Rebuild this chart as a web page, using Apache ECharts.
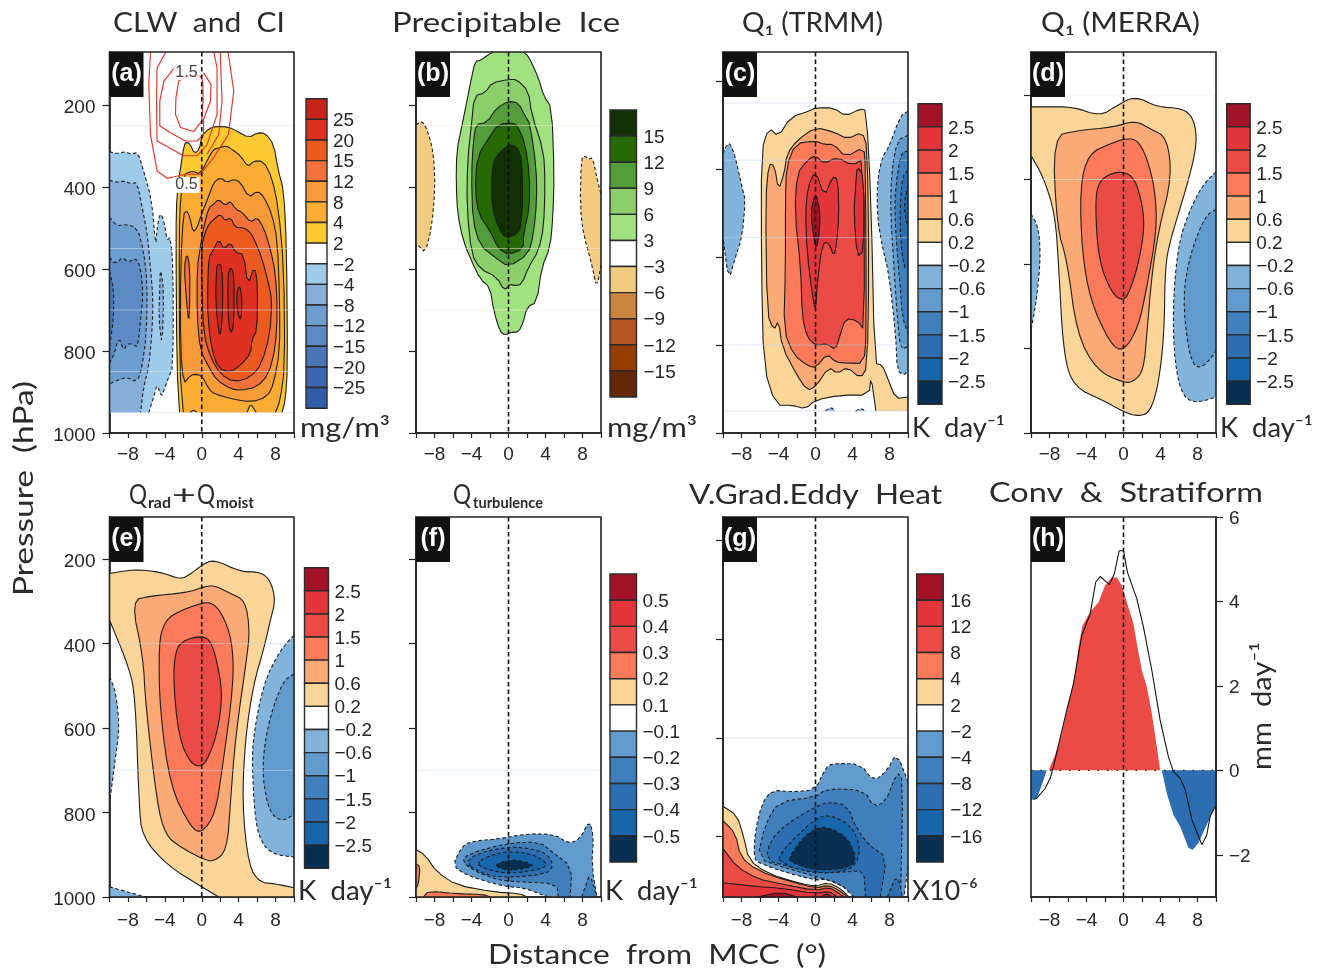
<!DOCTYPE html>
<html><head><meta charset="utf-8">
<style>html,body{margin:0;padding:0;background:#fff}#c{width:1326px;height:969px}</style>
<script src="https://cdn.jsdelivr.net/npm/echarts@6/dist/echarts.min.js"></script></head>
<body><div id="c"></div>
<script>
// ---------- tick labels / categories ----------
const xTicks=[-10,-8,-6,-4,-2,0,2,4,6,8,10];
const xLabels=[-8,-4,0,4,8];
const pTicks=[200,400,600,800,1000];
const hTicks=[-2,0,2,4,6];
// ---------- colourbar levels (top to bottom) ----------
const cbA=['25','20','15','12','8','4','2','−2','−4','−8','−12','−15','−20','−25'];
const cbB=['15','12','9','6','3','−3','−6','−9','−12','−15'];
const cbQ=['2.5','2','1.5','1','0.6','0.2','−0.2','−0.6','−1','−1.5','−2','−2.5'];
const cbF=['0.5','0.4','0.3','0.2','0.1','−0.1','−0.2','−0.3','−0.4','−0.5'];
const cbG=['16','12','8','4','2','−2','−4','−8','−12','−16'];
const colA=['#C8241A','#E03022','#EC5A20','#F5713C','#F79A38','#FAAC33','#FDC931','#FFFFFF','#9FCBEA','#87AFD9','#6C9ECF','#5B8AC5','#4A77B8','#3E66B3','#2F5DA9'];
const colB=['#123206','#266A06','#539D3A','#8BCF6B','#A0E280','#FFFFFF','#F2CB80','#CB8640','#B65522','#963E02','#642707'];
const colQ=['#A31226','#E3353A','#EC4A44','#FB7A5A','#FBAA76','#FBD598','#FFFFFF','#82B3DB','#619BCE','#3F7FBC','#2D6EB3','#1766AB','#072F51'];
const colF=['#A31226','#E3353A','#EC4A44','#FB7A5A','#FBD598','#FFFFFF','#619BCE','#3F7FBC','#2D6EB3','#1766AB','#072F51'];
// ---------- panel (a) contours: [distance, hPa] ----------
const a_p2=[[-2.4,950],[-2.7,840],[-2.8,515],[-2.7,418],[-2.3,353],[-1.9,296],[-1.6,290],[-1.2,298],[-.8,319],[-.25,308],[0,276],[.76,258],[1.66,252],[2.9,254],[3.8,264],[5.1,280],[6,268],[6.9,269],[7.8,296],[8.3,361],[8.9,410],[9.2,556],[9.3,840],[9.06,920],[8.7,950]];
const a_p4=[[-2,950],[-2.4,840],[-2.45,515],[-2.3,426],[-1.95,369],[-1,361],[-.15,369],[.76,328],[1.3,308],[2,304],[2.7,300],[3.5,312],[4.2,324],[5,351],[5.6,337],[6.7,337],[7.6,377],[8.3,450],[8.9,596],[9,840],[8.5,920],[8,950],[5.9,950],[5.3,928],[4.9,950],[-.5,950],[-.9,944],[-1.3,950]];
const a_p8=[[-2,466],[-1.6,458],[-1.3,474],[-.94,511],[-.5,499],[-.15,474],[.76,422],[1.3,389],[2,377],[2.74,389],[3.5,381],[4.2,389],[5.1,426],[6,410],[6.7,422],[7.6,466],[8.2,531],[8.45,677],[8.45,799],[7.8,880],[7.08,912],[5.3,925],[3.1,916],[1.3,904],[.76,892],[0,860],[-.87,856],[-1.4,864],[-1.95,880],[-2.3,799],[-2.3,596]];
const a_p12=[[.76,450],[1.3,442],[1.84,430],[2.56,446],[3.1,434],[3.65,454],[4.4,462],[5.3,487],[6,474],[6.7,499],[7.4,547],[8,612],[8.2,702],[8,791],[7.26,856],[6,888],[4.2,896],[3.1,892],[1.66,872],[.76,839],[-.15,799],[-.5,718],[-.5,596],[-.15,547],[.2,499]];
const a_p12b=[[-1.6,560],[-1.3,596],[-1.3,677],[-1.4,734],[-1.66,677],[-1.9,596]];
const a_p15=[[.76,491],[1.3,479],[2,466],[2.56,483],[3.1,474],[3.65,499],[4.4,499],[5.1,507],[5.6,523],[6.5,572],[7.26,637],[7.6,677],[7.4,758],[6.5,831],[5.3,864],[3.5,876],[2,856],[.94,815],[.2,758],[0,637],[0,547],[.3,515]];
const a_p20=[[.76,572],[1.3,552],[1.84,527],[2.4,552],[3.1,535],[3.65,560],[4.55,564],[5,641],[5.7,592],[6.06,637],[6,750],[5.45,770],[5.3,807],[4.2,835],[3.1,852],[1.84,843],[1.1,799],[.65,718],[.65,637]];
const a_p25a=[[1.84,586],[2.2,596],[2.3,677],[2.1,758],[1.84,758],[1.5,677],[1.6,596]];
const a_p25b=[[3.1,594],[3.5,612],[3.5,718],[3.3,758],[2.9,742],[2.8,620]];
const a_p25c=[[4.1,637],[4.4,677],[4.26,726],[3.9,710],[3.75,661]];
const a_n2=[[-10,314],[-9.2,319],[-8.3,314],[-7.7,320],[-6.9,316],[-6.3,361],[-5.4,434],[-5,547],[-4.84,499],[-4.5,462],[-4.1,483],[-3.75,531],[-3.4,522],[-3.1,596],[-3.1,839],[-3.6,864],[-4.1,896],[-4.4,912],[-4.84,880],[-5.1,904],[-5.74,950],[-10,950]];
const a_n4=[[-10,384],[-9.2,389],[-8.45,385],[-7.7,392],[-7,389],[-6.46,450],[-5.9,515],[-5.56,596],[-5.27,677],[-5.4,758],[-5.74,839],[-6.3,888],[-6.64,950],[-10,950]];
const a_n4b=[[-4.5,596],[-4.1,653],[-4.3,791],[-4.66,718],[-4.55,653]];
const a_n8=[[-10,474],[-9.2,495],[-8.3,491],[-7,499],[-6.3,556],[-5.9,637],[-6,758],[-6.46,839],[-7,876],[-8.1,864],[-9.2,872],[-10,880]];
const a_n12=[[-10,572],[-9.35,588],[-8.6,572],[-7.9,584],[-7.2,572],[-6.64,596],[-6.35,661],[-6.64,726],[-6.93,791],[-7.5,783],[-8.1,783],[-8.45,799],[-9,766],[-9.5,807],[-10,830]];
const a_n15=[[-10,605],[-9.55,650],[-9.55,720],[-10,790]];
const a_ci1=[[-.15,130],[-1.6,130],[-2.5,142],[-2.8,183],[-2.85,223],[-2.3,255],[-.87,265],[0,239],[.15,190],[.1,142],[-.15,130]];
const a_ci2=[[-2.67,101],[-4.1,142],[-4.55,191],[-4.55,251],[-3.4,268],[-1.77,288],[-.5,288],[.2,272],[.2,235],[.94,191],[1,150],[.2,122]];
const a_ci3=[[-3.9,71],[-4.84,110],[-4.9,191],[-4.84,288],[-1.95,324],[-.5,324],[.58,296],[1.66,223],[1.66,110],[1.3,71]];
const a_ci4=[[-5.56,71],[-5.74,150],[-5.56,272],[-4.84,361],[-3.75,379],[-1.77,369],[-.15,369],[1.3,328],[2.9,272],[3.47,166],[2.85,71]];
const a_ci5=[[2,71],[2.2,191],[1.84,272],[.58,320]];
const a_ciLabels=[[-1.66,120],[-1.66,395]];
const a_ciText=['1.5','0.5'];
const a_pale=[250,550,700,850,950];
// ---------- panel (b) ----------
const b_p3=[[-1.6,71],[-2.16,77],[-3.06,92],[-3.6,93],[-4,134],[-4.5,191],[-5,247],[-5.6,312],[-5.66,393],[-5.5,466],[-4.9,531],[-4,580],[-3.06,625],[-2,645],[-1.6,702],[-.9,754],[-.36,761],[.36,754],[1.08,754],[1.6,730],[2,693],[3.06,681],[3.6,596],[4.5,547],[4.8,474],[4.94,369],[4.68,207],[3.8,178],[3.24,134],[2.16,81],[1.6,71]];
const b_p6=[[-3.7,178],[-2.5,170],[-1.8,146],[0,138],[.9,138],[2.16,166],[2.5,223],[3.8,312],[3.96,393],[3.8,499],[3.24,556],[2.16,596],[1.44,637],[.72,641],[.18,637],[-.47,653],[-1.26,620],[-3.06,600],[-4,564],[-4.5,450],[-4.43,337],[-4,247]];
const b_p9=[[-3.5,247],[-2.34,243],[-1.26,207],[0,191],[1.08,195],[1.8,227],[2.34,247],[3,353],[3.06,434],[2.7,515],[2.16,564],[0,595],[-1.44,572],[-3.06,543],[-3.86,483],[-4,369],[-3.8,288]];
const b_p12=[[-2,276],[-1.08,247],[.54,243],[1.08,255],[1.8,296],[2.27,369],[2.27,450],[1.62,515],[1.62,551],[0,565],[-1.08,551],[-2,507],[-3.24,466],[-3.6,410],[-3.42,328]];
const b_p15=[[-1.8,361],[-1.44,328],[-.36,304],[.36,296],[1.08,308],[1.44,337],[1.55,434],[1.33,499],[.9,515],[-.36,525],[-1.08,499],[-1.8,450]];
const b_n3a=[[-10,249],[-9.3,238],[-8.66,268],[-8.1,320],[-7.93,401],[-8.3,499],[-9,560],[-9.73,543],[-10,539]];
const b_n3b=[[7.86,328],[8.3,325],[8.65,333],[9.1,328],[9.55,377],[10,418],[10,590],[9.55,649],[9,588],[8.1,515],[7.75,450]];
const b_pale=[250,550,700];
// ---------- panel (c) ----------
const c_p02=[[-4.3,937],[-5.6,850],[-5.85,623],[-5.85,358],[-5.05,306],[-4,326],[-2.7,282],[-.54,267],[0,261],[2,261],[3.25,280],[4.87,263],[5.5,267],[6,471],[6.4,842],[7.2,845],[7.76,873],[8.66,922],[10,918],[10,950],[6.53,950],[6,870],[5.8,914],[2.7,914],[0,925],[-1.08,945],[-2.5,937]];
const c_p06=[[-5.05,388],[-4.44,392],[-4,448],[-3.4,411],[-3.07,365],[-2,335],[0,305],[2,316],[3.43,332],[5.05,316],[5.6,350],[5.78,623],[5.6,850],[4.87,876],[3.43,850],[2.35,865],[1.44,850],[0,895],[-.9,903],[-2,869],[-3.6,805],[-4,744],[-4.5,767],[-5.23,729],[-5.4,471]];
const c_p1=[[-3.14,395],[-2.17,342],[0,336],[.9,344],[2,344],[3.25,373],[5.23,350],[5.4,395],[5.5,774],[5.23,842],[3.43,841],[2.17,839],[1.26,820],[0,852],[-.9,846],[-2.35,823],[-3.43,767],[-3.25,623],[-3.25,471]];
const c_p15=[[-2.24,501],[-2,411],[-.9,380],[0,369],[.9,388],[2.35,373],[3.97,392],[5.23,376],[5.3,767],[4.5,744],[3.25,740],[2.7,774],[2.17,812],[1.26,797],[0,801],[-.9,782],[-1.44,736],[-1.6,623]];
const c_p2=[[0,403],[.97,464],[1.8,418],[2.42,422],[2.53,509],[2.27,570],[2,600],[1.44,566],[.72,570],[.18,661],[0,725],[-.36,683],[-.9,592],[-1.08,501],[-.83,441]];
const c_p2b=[[4.5,392],[5.23,418],[5.23,585],[4.5,600],[4.15,501],[4.33,441]];
const c_p25=[[0,452],[.47,494],[.47,532],[.1,589],[-.36,532],[-.47,494]];
const c_n02a=[[-10,365],[-9.6,345],[-9.2,342],[-8.66,373],[-7.94,441],[-7.58,471],[-7.94,555],[-8.66,600],[-9.39,655],[-10,555]];
const c_n02b=[[10,269],[9.2,278],[7.94,350],[7.22,373],[6.68,426],[6.68,509],[7.22,577],[7.94,638],[8.66,774],[8.84,858],[9.57,869],[10,858]];
const c_n06=[[10,323],[8.84,335],[8.2,409],[8.12,501],[8.48,623],[8.84,736],[9.2,810],[10,804]];
const c_n1=[[10,358],[9.2,365],[8.66,441],[8.56,501],[8.84,592],[9.2,676],[9.39,736],[10,774]];
const c_n15=[[10,403],[9.39,418],[9.13,486],[9.2,562],[9.57,623],[10,627]];
const c_n2=[[10,437],[9.64,471],[9.64,501],[10,532]];
const c_n02c=[[1.08,950],[1.62,941],[2.17,950]];
const c_n02d=[[4.33,950],[4.87,944],[5.4,950]];
const c_pale=[250,380,556,800,950];
// ---------- panel (d) ----------
const d_p02=[[-10,228],[-8.3,228],[-5.4,228],[-2.53,250],[-.72,225],[1.26,202],[3.6,228],[6.3,231],[7.5,252],[7.94,299],[7.58,355],[6.5,441],[5.05,544],[4.5,607],[4.4,765],[3.8,883],[2.9,950],[1.62,961],[0,950],[-2.17,923],[-5.4,891],[-6.5,812],[-7,607],[-7.4,481],[-8.66,394],[-10,343]];
const d_p06=[[-7.65,298],[-5.05,284],[-1.08,276],[1.26,260],[2.9,280],[4.7,300],[5.23,394],[3.8,520],[3.07,623],[2.53,765],[2.17,852],[1.08,879],[0,881],[-2.9,852],[-5.05,765],[-6.1,591],[-7.2,513]];
const d_p1=[[-4.7,418],[-3.8,339],[-1.44,315],[0,304],[1.44,304],[2.53,347],[3.43,426],[3.6,520],[2.53,654],[1.62,749],[0,808],[-1.44,789],[-3.6,686],[-4.5,568]];
const d_p15=[[-3.07,457],[-2.7,406],[-1.44,386],[0,381],[1.26,398],[2.1,465],[2.24,520],[1.62,599],[.72,662],[0,688],[-1.26,670],[-2.7,591]];
const d_n02a=[[-10,481],[-9.2,512],[-8.95,583],[-9.4,686],[-10,757]];
const d_n02b=[[10,382],[8.5,414],[7,481],[5.96,552],[5.4,670],[5.4,804],[6.13,903],[7.58,931],[10,915]];
const d_n06=[[10,471],[8.84,485],[7.2,576],[6.4,678],[7,804],[7.76,846],[8.84,840],[10,806]];
const d_pale=[200,400];
// ---------- panel (e) ----------
const e_p02=[[-10,234],[-7.36,224],[-4.5,230],[-2.3,248],[-1.2,235],[0,214],[1.3,200],[4.2,230],[6.35,230],[7.44,250],[8,297],[7.44,344],[6.7,415],[5.63,494],[4.73,621],[4.37,779],[5.1,929],[6.35,966],[7.8,968],[10,978],[10,1000],[1.84,1000],[0,976],[-3.75,925],[-6.46,858],[-6.8,779],[-7.2,526],[-7.9,455],[-10,344]];
const e_p06=[[-7.65,298],[-5.56,287],[-1.6,279],[0,267],[1.3,261],[3.1,281],[4.73,298],[5.2,368],[4.9,431],[3.65,621],[3.1,779],[2.74,889],[1.3,917],[0,909],[-2.3,882],[-3.93,854],[-4.84,779],[-6.1,542],[-6.35,431]];
const e_p1=[[-4.66,400],[-4.1,352],[-3,328],[0,303],[1.12,303],[2.2,328],[3.3,392],[3.47,494],[2.2,700],[1.48,802],[0,850],[-1.23,834],[-3.4,739],[-4.55,558]];
const e_p15=[[-3.1,486],[-2.85,415],[-1.95,392],[0,381],[1.12,396],[2,479],[2.2,534],[1.66,613],[.76,668],[0,692],[-1.23,684],[-2.5,621]];
const e_n02a=[[-10,479],[-9.35,510],[-8.9,597],[-9.35,668],[-10,779]];
const e_n02b=[[10,380],[8.5,415],[6.7,494],[5.63,613],[5.45,684],[5.8,826],[6.7,881],[8.16,901],[10,905]];
const e_n06=[[10,472],[8.7,490],[7.08,597],[6.53,700],[7.08,779],[7.8,810],[8.9,820],[10,804]];
const e_n02c=[[-10,976],[-6.1,1000],[-10,1000]];
const e_pale=[400,700];
// ---------- panel (f) ----------
const f_p01=[[-10,888],[-9,901],[-7.75,941],[-5.6,972],[-1.6,988],[1.26,992],[2,1000],[-10,1000]];
const f_p02a=[[-10,921],[-9.55,929],[-9.73,968],[-10,980]];
const f_p02b=[[-9.2,1000],[-8.65,986],[-5.6,992],[-2.7,994],[-2,1000]];
const f_n01=[[-6.05,925],[-5.05,881],[-4,868],[-.9,862],[2,850],[5.05,852],[6.5,874],[7.75,862],[8.76,817],[9.2,858],[9,925],[9.55,1000],[4.3,1000],[1.62,978],[0,976],[-1.6,968],[-4.5,949]];
const f_n02=[[-5.05,917],[-4.3,897],[0,872],[3.4,870],[4.7,893],[6.85,929],[6.67,1000],[5.4,1000],[5.2,968],[.9,964],[-1.26,959],[-3.42,941]];
const f_n02b=[[8.8,945],[9.55,1000],[7.9,1000],[8.3,976]];
const f_n03=[[-4.7,921],[-3.42,897],[0,881],[2.34,885],[4.14,897],[4.86,925],[4.14,945],[.18,954],[-2.34,949]];
const f_n04=[[-3.6,921],[-2,901],[0,892],[2.34,897],[4.14,917],[3.78,933],[.18,945],[-2,937]];
const f_n05=[[-1.5,923],[.18,912],[1.62,915],[2.88,927],[.54,937],[-.9,933]];
const f_pale=[700];
// ---------- panel (g) ----------
const g_p2=[[-10,739],[-8.5,757],[-7.76,801],[-7.2,848],[-5.2,875],[-1.6,896],[0,901],[1.44,894],[2.7,906],[3.6,923],[-10,923]];
const g_p4=[[-10,768],[-8.66,794],[-8.1,842],[-6.3,869],[-3.07,890],[0,905],[1.44,899],[2.7,911],[3.43,923],[-10,923]];
const g_p8=[[-10,825],[-8.5,862],[-6.3,886],[-3.8,896],[0,910],[1.44,903],[2.5,915],[3.07,923],[-10,923]];
const g_p12=[[-10,894],[-6.3,902],[-3.8,905],[0,916],[1.44,911],[2.35,923],[-10,923]];
const g_p16a=[[-6.3,923],[-3.8,913],[-2,923]];
const g_p16b=[[.54,923],[1.26,916],[1.8,923]];
const g_n2=[[-6.68,845],[-6.5,787],[-5.78,733],[-4.7,706],[-2.35,710],[0,705],[1.08,662],[1.8,652],[4.87,653],[6.3,689],[7.76,666],[8.77,630],[10,689],[10,862],[9.57,923],[4.33,923],[3.07,902],[1.08,886],[0,889],[-3.43,872],[-5.96,855]];
const g_n4=[[-6.3,845],[-5.4,774],[-4,730],[0,720],[1.26,703],[5.23,706],[6.3,740],[7.58,730],[8.84,669],[9.46,686],[9.2,923],[4.15,923],[2.7,896],[.18,882],[-3.07,865]];
const g_n8=[[-5.4,848],[-4.87,808],[-3.07,774],[0,740],[1.44,730],[3.43,737],[4.5,787],[5.96,821],[7.7,842],[7,923],[5.4,923],[5.23,869],[3.43,872],[0,875],[-2.7,862]];
const g_n8b=[[8.84,875],[9.4,923],[7.76,923]];
const g_n12=[[-4.08,845],[-2.9,815],[0,764],[1.44,756],[3.8,777],[4.87,821],[4.33,862],[2,874],[0,873],[-2.35,865],[-3.6,852]];
const g_n16=[[-2.96,845],[-1.26,801],[0,784],[1.26,781],[3.43,801],[4.5,848],[3.43,865],[0,869],[-2.35,855]];
const g_pale=[600];
// ---------- panel (h): mm/day ----------
const h_convX=[-8.1,-7.4,-6.67,-5.95,-5.2,-4.86,-4.43,-3.6,-2.7,-2,-1.26,-.72,-.18,.36,1.08,1.44,1.98,2.52,3.06,3.6,3.96];
const h_convY=[0,.36,.87,1.58,2.29,2.92,3.43,3.75,3.98,4.38,4.57,4.57,4.38,3.98,3.47,3,2.37,1.98,1.35,.56,0];
const h_stratLX=[-10,-9.37,-8.83,-8.3];
const h_stratLY=[-.7,-.66,-.35,0];
const h_stratRX=[4.14,4.68,5.4,6.13,7.03,7.5,8.1,8.83,9.55,10];
const h_stratRY=[0,-.54,-1.06,-1.33,-1.84,-1.88,-1.72,-1.37,-1.02,-.78];
const h_totalX=[-9.73,-9.37,-8.47,-7.93,-7.57,-6.85,-6.13,-5.4,-4.86,-4.5,-3.6,-3,-2.52,-1.51,-1,-.47,0,.43,1.44,2.16,3.06,3.96,4.86,5.4,6.13,6.67,7.39,8.47,9,9.37,10];
const h_totalY=[-.69,-.66,-.43,-.19,.09,.76,1.43,2.06,2.76,3.2,3.71,4.46,4.59,4.4,4.65,5.2,5.2,4.69,4.06,3.39,2.37,1.19,.32,-.03,-.19,-.46,-1.17,-1.76,-1.53,-1.09,-.82];

const Qp=[colQ[5],colQ[4],colQ[3],colQ[2],colQ[1],colQ[0]], Qn=[colQ[7],colQ[8],colQ[9],colQ[10],colQ[11]];
const panels=[
 {grid:[109.5,52,184.5,381],y:[71,1000],cut:950,passes:1,pale:a_pale,paleC:'#D3E4F3',yLab:true,fills:[
  [a_n2,colA[8],1],[a_n4,colA[9],1],[a_n4b,colA[9],1],[a_n8,colA[10],1],[a_n12,colA[11],1],[a_n15,colA[12],1],
  [a_p2,colA[6]],[a_p4,colA[5]],[a_p8,colA[4]],[a_p12,colA[3]],[a_p12b,colA[3]],[a_p15,colA[2]],[a_p20,colA[1]],[a_p25a,colA[0]],[a_p25b,colA[0]],[a_p25c,colA[0]]]},
 {grid:[416,52,185,381],y:[71,1000],cut:1000,passes:1,pale:b_pale,paleC:'#FBE9D5',fills:[
  [b_n3a,colB[6],1],[b_n3b,colB[6],1],[b_p3,colB[4]],[b_p6,colB[3]],[b_p9,colB[2]],[b_p12,colB[1]],[b_p15,colB[0]]]},
 {grid:[723,52,185,381],y:[134,1000],cut:950,passes:1,pale:c_pale,paleC:'#BFD4E6',fills:[
  [c_n02a,Qn[0],1],[c_n02b,Qn[0],1],[c_n02c,Qn[0],1],[c_n02d,Qn[0],1],[c_n06,Qn[1],1],[c_n1,Qn[2],1],[c_n15,Qn[3],1],[c_n2,Qn[4],1],
  [c_p02,Qp[0]],[c_p06,Qp[1]],[c_p1,Qp[2]],[c_p15,Qp[3]],[c_p2,Qp[4]],[c_p2b,Qp[4]],[c_p25,Qp[5]]]},
 {grid:[1031,52,185,381],y:[98,1000],cut:1000,passes:2,pale:d_pale,paleC:'#E6F0F8',fills:[
  [d_n02a,Qn[0],1],[d_n02b,Qn[0],1],[d_n06,Qn[1],1],[d_p02,Qp[0]],[d_p06,Qp[1]],[d_p1,Qp[2]],[d_p15,Qp[3]]]},
 {grid:[109.5,517,184.5,380],y:[100,1000],cut:1000,passes:2,pale:e_pale,paleC:'#BFD9EC',yLab:true,fills:[
  [e_n02a,Qn[0],1],[e_n02b,Qn[0],1],[e_n02c,Qn[0],1],[e_n06,Qn[1],1],[e_p02,Qp[0]],[e_p06,Qp[1]],[e_p1,Qp[2]],[e_p15,Qp[3]]]},
 {grid:[416,517,185,380],y:[100,1000],cut:1000,passes:1,pale:f_pale,paleC:'#BFD9EC',fills:[
  [f_n01,colF[6],1],[f_n02,colF[7],1],[f_n02b,colF[7],1],[f_n03,colF[8],1],[f_n04,colF[9],1],[f_n05,colF[10],1],
  [f_p01,colF[4]],[f_p02a,colF[3]],[f_p02b,colF[3]]]},
 {grid:[723,517,185,380],y:[152,923],cut:923,passes:1,pale:g_pale,paleC:'#C4D2E0',fills:[
  [g_n2,colF[6],1],[g_n4,colF[7],1],[g_n8,colF[8],1],[g_n8b,colF[8],1],[g_n12,colF[9],1],[g_n16,colF[10],1],
  [g_p2,colF[4]],[g_p4,colF[3]],[g_p8,colF[2]],[g_p12,colF[1]],[g_p16a,colF[0]],[g_p16b,colF[0]]]},
];
const cbars=[
 {box:[306,98.7,21,309.5],lab:cbA,col:colA,m:6},
 {box:[610,110,26.5,287],lab:cbB,col:colB,m:7},
 {box:[918,103.7,24,300.5],lab:cbQ,col:colQ,m:6},
 {box:[1226.7,103.7,23.5,300.5],lab:cbQ,col:colQ,m:6},
 {box:[304.5,567.7,24,300.5],lab:cbQ,col:colQ,m:6},
 {box:[610,574,26.5,288],lab:cbF,col:colF,m:6},
 {box:[916.7,574,26.5,288],lab:cbG,col:colF,m:7},
];
const INK='#222';
const tickFont={fontFamily:'Liberation Sans',fontSize:19,color:'#262626'};
const fmt=v=>v<0?'−'+(-v):String(v);
const grids=[],xAxes=[],yAxes=[],series=[];

function smoothClosed(pts,passes){
  for(let k=0;k<passes;k++){
    const out=[],n=pts.length;
    for(let i=0;i<n;i++){
      const p=pts[i],a=pts[(i+n-1)%n],b=pts[(i+1)%n];
      if(p[2]){out.push(p);continue;}
      out.push([p[0]+(a[0]-p[0])*.25,p[1]+(a[1]-p[1])*.25,0]);
      out.push([p[0]+(b[0]-p[0])*.25,p[1]+(b[1]-p[1])*.25,0]);
    }
    pts=out;
  }
  return pts;
}
function contourSeries(i,pts,color,neg,P){
  return {type:'custom',xAxisIndex:i,yAxisIndex:i,coordinateSystem:'cartesian2d',silent:true,clip:true,animation:false,z:2,
    data:pts,encode:{x:0,y:1},
    renderItem(params,api){
      if(params.dataIndex!==0) return null;
      let px=pts.map(q=>{
        const m=(q[0]<=-10?1:0)|(q[0]>=10?2:0)|(q[1]>=P.cut?4:0)|(q[1]<=P.y[0]?8:0);
        const c=api.coord(q);return [c[0],c[1],m];
      });
      px=smoothClosed(px,P.passes);
      const pieces=[];let cur=[];const n=px.length;
      let start=0;
      for(let j=0;j<n;j++){const a=px[j],b=px[(j+1)%n];if(a[2]&b[2]){start=(j+1)%n;break;}}
      for(let j=0;j<n;j++){
        const a=px[(start+j)%n],b=px[(start+j+1)%n];
        if(!cur.length)cur.push([a[0],a[1]]);
        if(a[2]&b[2]){if(cur.length>1)pieces.push(cur);cur=[];}
        else cur.push([b[0],b[1]]);
      }
      if(cur.length>1)pieces.push(cur);
      const children=[{type:'polygon',shape:{points:px.map(q=>[q[0],q[1]])},style:{fill:color,stroke:null},silent:true}];
      pieces.forEach(s=>children.push({type:'polyline',shape:{points:s},silent:true,
        style:{fill:null,stroke:'#1c1c1c',lineWidth:1.1,lineDash:neg?[3.5,2.5]:null,lineJoin:'round'}}));
      return {type:'group',children};
    }};
}
function lineOverlay(i,pts,color,w,dash,z,clip,op){
  return {type:'custom',xAxisIndex:i,yAxisIndex:i,coordinateSystem:'cartesian2d',silent:true,clip:!!clip,animation:false,z:z,
    data:pts,encode:{x:0,y:1},
    renderItem(params,api){
      if(params.dataIndex!==0) return null;
      return {type:'polyline',silent:true,shape:{points:pts.map(q=>api.coord(q))},style:{fill:null,stroke:color,lineWidth:w,lineDash:dash,lineJoin:'round',opacity:op==null?1:op}};
    }};
}
function frameSeries(i,pts){
  return {type:'custom',xAxisIndex:i,yAxisIndex:i,coordinateSystem:'cartesian2d',silent:true,clip:false,animation:false,z:9,
    data:pts,encode:{x:0,y:1},
    renderItem(params,api){
      if(params.dataIndex!==0) return null;
      const c=params.coordSys;
      return {type:'rect',silent:true,shape:{x:c.x,y:c.y,width:c.width,height:c.height},style:{fill:null,stroke:INK,lineWidth:1.6}};
    }};
}
function plotAxes(i,G,yOpt){
  grids.push({left:G[0],top:G[1],width:G[2],height:G[3],containLabel:false});
  xAxes.push({gridIndex:i,type:'value',min:-10,max:10,position:'bottom',splitLine:{show:false},
    axisLine:{show:true,onZero:false,lineStyle:{color:INK,width:1.6}},
    axisTick:{show:true,length:5,customValues:xTicks,lineStyle:{color:INK,width:1.2}},
    axisLabel:{show:true,margin:G[1]>300?14:12,customValues:xLabels,formatter:fmt,...tickFont}});
  yAxes.push(Object.assign({gridIndex:i,type:'value',splitLine:{show:false},
    axisLine:{show:true,onZero:false,lineStyle:{color:INK,width:1.6}}},yOpt));
}
panels.forEach((P,i)=>{
  plotAxes(i,P.grid,{min:P.y[0],max:P.y[1],inverse:true,position:'left',
    axisTick:{show:true,length:7,customValues:pTicks.filter(v=>v<=P.y[1]),lineStyle:{color:INK,width:1.2}},
    axisLabel:P.yLab?{show:true,margin:14,customValues:pTicks,formatter:fmt,verticalAlign:'top',lineHeight:P.grid[1]>300?5.5:6,...tickFont}:{show:false}});
  P.fills.forEach(f=>series.push(contourSeries(i,f[0],f[1],!!f[2],P)));
  P.pale.forEach(p=>series.push(lineOverlay(i,[[-10,p],[10,p]],P.paleC,1,null,3,true,.55)));
  if(i===0){
    [a_ci1,a_ci2,a_ci3,a_ci4,a_ci5].forEach(l=>series.push(lineOverlay(i,l,'#E2342A',1.15,null,4,true)));
    series.push({type:'custom',xAxisIndex:0,yAxisIndex:0,coordinateSystem:'cartesian2d',silent:true,animation:false,z:5,
      data:a_ciLabels,encode:{x:0,y:1},
      renderItem(params,api){
        const c=api.coord(a_ciLabels[params.dataIndex]);
        return {type:'text',silent:true,x:c[0],y:c[1],style:{text:a_ciText[params.dataIndex],fontFamily:'Liberation Sans',fontSize:16,fill:'#444',
          align:'center',verticalAlign:'middle',backgroundColor:params.dataIndex?'#fff':'rgba(255,255,255,.75)',padding:[0,2]}};
      }});
  }
  series.push(lineOverlay(i,[[0,P.y[0]],[0,P.y[1]]],'#111',1.6,[4.5,3],8,false));
  series.push(frameSeries(i,[[0,P.y[0]]]));
});
// panel h
(function(){
  const i=panels.length;
  const zip=(x,y)=>x.map((v,k)=>[v,y[k]]);
  plotAxes(i,[1031,517,185,380],{min:-3,max:6,position:'right',
    axisTick:{show:true,length:7,customValues:hTicks,lineStyle:{color:INK,width:1.2}},
    axisLabel:{show:true,margin:13,customValues:hTicks,formatter:fmt,verticalAlign:'top',lineHeight:3.5,...tickFont}});
  const area=(d,c)=>({type:'line',xAxisIndex:i,yAxisIndex:i,data:d,showSymbol:false,animation:false,silent:true,z:2,
    lineStyle:{width:0},areaStyle:{color:c,opacity:1}});
  series.push(area(zip(h_convX,h_convY),'#EC4A44'));
  series.push(area(zip(h_stratLX,h_stratLY),'#2D6EB3'));
  series.push(area(zip(h_stratRX,h_stratRY),'#2D6EB3'));
  series.push({type:'line',xAxisIndex:i,yAxisIndex:i,data:zip(h_totalX,h_totalY),showSymbol:false,animation:false,silent:true,z:4,
    lineStyle:{color:'#111',width:1.1}});
  series.push(lineOverlay(i,[[-10,0],[10,0]],'#222',1.2,[1.5,8],5,false));
  series.push(lineOverlay(i,[[0,-3],[0,6]],'#111',1.6,[4.5,3],8,false));
  series.push(frameSeries(i,[[0,-3]]));
})();
// colourbars
cbars.forEach((C,k)=>{
  const i=grids.length,n=C.col.length;
  grids.push({left:C.box[0],top:C.box[1],width:C.box[2],height:C.box[3]});
  xAxes.push({gridIndex:i,type:'value',min:0,max:1,show:false});
  const vals=C.lab.map((_,j)=>j+1);
  yAxes.push({gridIndex:i,type:'value',min:0,max:n,inverse:true,position:'right',splitLine:{show:false},
    axisLine:{show:false,onZero:false},axisTick:{show:false},
    axisLabel:{show:true,margin:C.m,customValues:vals,formatter:v=>C.lab[v-1],verticalAlign:'top',lineHeight:3,...tickFont}});
  const cells=C.col.map((_,j)=>[j,j+1]);
  series.push({type:'custom',xAxisIndex:i,yAxisIndex:i,coordinateSystem:'cartesian2d',silent:true,animation:false,clip:false,z:3,
    data:cells,encode:{y:0},
    renderItem(params,api){
      const d=cells[params.dataIndex],a=api.coord([0,d[0]]),b=api.coord([1,d[1]]);
      return {type:'rect',silent:true,shape:{x:a[0],y:a[1],width:b[0]-a[0],height:b[1]-a[1]},style:{fill:C.col[params.dataIndex],stroke:'#2b2b2b',lineWidth:1.4}};
    }});
});

// text
const mctx=document.createElement('canvas').getContext('2d');
function T(text,x0,x1,yc,size,o){
  o=o||{};const fam=o.family||'Lato',wt=o.weight||'400';
  mctx.font=wt+' '+size+'px "'+fam+'"';
  const w=mctx.measureText(text).width,sc=(x1-x0)/w;
  return {type:'text',silent:true,z:20,x:x0,y:yc,scaleX:sc,style:{text,fontFamily:fam,fontWeight:wt,fontSize:size,fill:o.fill||'#2a2a2a',align:'left',verticalAlign:'middle'}};
}
function V(text,y0,y1,xc,size){ // rotated 90° ccw, reads bottom to top from y0 (bottom) to y1 (top)
  const el=T(text,0,y0-y1,0,size);
  el.x=xc;el.y=y0;el.rotation=Math.PI/2;
  return el;
}
function badge(letter,x,y){
  return [{type:'rect',silent:true,z:15,shape:{x:x,y:y,width:34,height:45},style:{fill:'#111'}},
   {type:'text',silent:true,z:16,x:x+17,y:y+22,style:{text:'('+letter+')',fontFamily:'Liberation Sans',fontWeight:'bold',fontSize:25,fill:'#fff',align:'center',verticalAlign:'middle'}}];
}
const graphics=[
 T('CLW  and  CI',113,285,24,26),
 T('Precipitable  Ice',392,620,24,26),
 T('Q₁ (TRMM)',742,883,24,26),
 T('Q₁ (MERRA)',1041,1200,24,26),
 T('Q',129,147,496,26),T('rad',148,171,503,15,{weight:'700'}),T('+',172,196,496,26),T('Q',197,215,496,26),T('moist',216,254,503,15,{weight:'700'}),
 T('Q',453,471,496,26),T('turbulence',473,543,503,15,{weight:'700'}),
 T('V.Grad.Eddy  Heat',689,942,496,26),
 T('Conv  &  Stratiform',989,1263,494,26),
 T('mg/m³',300,390,429,26),T('mg/m³',607,697,429,26),
 T('K  day⁻¹',912,1005,429,26),T('K  day⁻¹',1220,1313,429,26),
 T('K  day⁻¹',298,392,892,26),T('K  day⁻¹',605,698,892,26),
 T('X10⁻⁶',912,978,892,26),
 T('Distance  from  MCC  (°)',488,826,955,27),
 V('Pressure  (hPa)',596,381,24,27),
 V('mm  day⁻¹',770,642,1263,26),
];
['a','b','c','d'].forEach((l,k)=>graphics.push(...badge(l,[109.5,416,723,1031][k],52)));
['e','f','g','h'].forEach((l,k)=>graphics.push(...badge(l,[109.5,416,723,1031][k],517)));

const chart=echarts.init(document.getElementById('c'),null,{renderer:'canvas',width:1326,height:969});
chart.setOption({animation:false,backgroundColor:'#fff',grid:grids,xAxis:xAxes,yAxis:yAxes,series:series,graphic:{elements:graphics}});
</script></body></html>
